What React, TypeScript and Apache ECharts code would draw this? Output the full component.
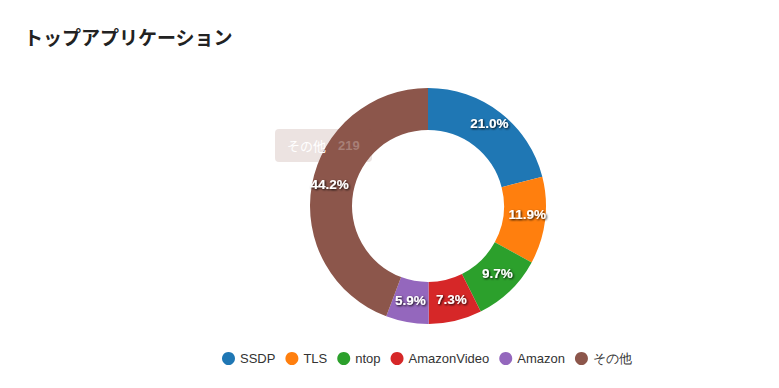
import React, { useEffect, useRef } from "react";
import * as echarts from "echarts";

const titleText = "トップアプリケーション";
const categories = ["SSDP", "TLS", "ntop", "AmazonVideo", "Amazon", "その他"];
const values = [104, 59, 48, 36, 29, 219];
const colors = ["#1f77b4", "#ff7f0e", "#2ca02c", "#d62728", "#9467bd", "#8c564b"];
const hoverName = "その他";
const hoverValue = "219";

export default function App() {
  const ref = useRef<HTMLDivElement>(null);
  useEffect(() => {
    if (!ref.current) return;
    const chart = echarts.init(ref.current, null, { renderer: "svg" });
    const total = values.reduce((a, b) => a + b, 0);
    chart.setOption({
      animation: false,
      color: colors,
      title: {
        text: titleText,
        left: 19,
        top: 22,
        textStyle: {
          fontFamily: "Noto Sans CJK JP",
          fontSize: 19,
          fontWeight: "bold",
          color: "#222",
        },
      },
      legend: {
        data: categories,
        bottom: 18,
        left: 217,
        icon: "circle",
        itemWidth: 13,
        itemHeight: 13,
        itemGap: 10,
        textStyle: { fontFamily: "Liberation Sans, Arial", fontSize: 13, color: "#333" },
      },
      graphic: [
        {
          type: "group",
          left: 275,
          top: 129,
          z: 100,
          children: [
            {
              type: "rect",
              z: 100,
              shape: { x: 0, y: 0, width: 97, height: 33, r: 4 },
              style: { fill: "rgba(140,86,75,0.17)" },
            },
            {
              type: "text",
              z: 101,
              x: 12,
              y: 16.5,
              style: {
                text: hoverName,
                fill: "#ffffff",
                fontSize: 13,
                fontFamily: "Noto Sans CJK JP",
                verticalAlign: "middle",
              },
            },
            {
              type: "text",
              z: 101,
              x: 63,
              y: 16.5,
              style: {
                text: hoverValue,
                fill: "rgba(255,255,255,0.25)",
                fontSize: 13,
                fontWeight: "bold",
                fontFamily: "Liberation Sans, Arial",
                verticalAlign: "middle",
              },
            },
          ],
        },
      ],
      series: [
        {
          type: "pie",
          z: 2,
          center: [428, 206],
          radius: [76, 118],
          startAngle: 90,
          clockwise: true,
          avoidLabelOverlap: false,
          label: {
            show: true,
            position: "inside",
            offset: [0, -4],
            formatter: (p: any) => ((p.value / total) * 100).toFixed(1) + "%",
            color: "#fff",
            fontWeight: "bold",
            fontSize: 13.5,
            fontFamily: "Liberation Sans, Arial",
            textShadowColor: "rgba(0,0,0,0.95)",
            textShadowBlur: 2,
            textShadowOffsetX: 1,
            textShadowOffsetY: 1,
          },
          labelLine: { show: false },
          itemStyle: { borderWidth: 0 },
          data: categories.map((c, i) => ({ name: c, value: values[i] })),
        },
      ],
    });
    return () => chart.dispose();
  }, []);
  return (
    <div
      ref={ref}
      style={{ position: "fixed", left: 0, top: 0, width: 779, height: 388, background: "#fff" }}
    />
  );
}
